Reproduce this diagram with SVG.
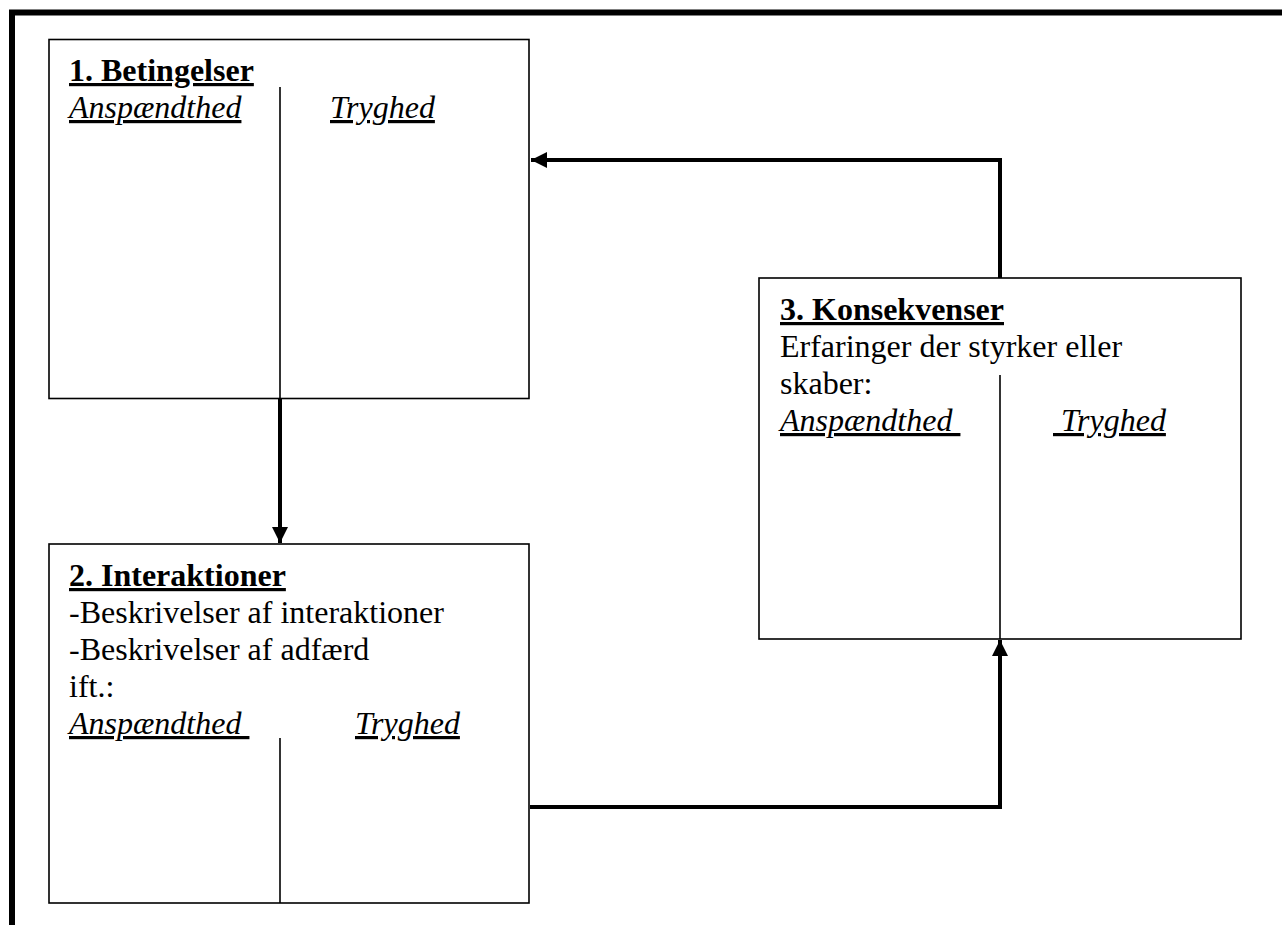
<svg xmlns="http://www.w3.org/2000/svg" width="1282" height="925" viewBox="0 0 1282 925">
<defs>
<style>
.box{fill:#fff;stroke:#000;stroke-width:1.6}
.div{stroke:#000;stroke-width:1.6}
.t{font-family:"Liberation Serif","Times New Roman",serif;font-size:32px;fill:#000}
.b{font-weight:bold;text-decoration:underline}
.i{font-style:italic;text-decoration:underline}
.con{fill:none;stroke:#000;stroke-width:4}
</style>
<marker id="ah" viewBox="0 0 10 10" refX="10" refY="5" markerWidth="4" markerHeight="4" orient="auto" markerUnits="strokeWidth">
<path d="M0,0 L10,5 L0,10 Z" fill="#000"/>
</marker>
</defs>
<rect width="1282" height="925" fill="#fff"/>
<rect x="12" y="12.5" width="1400" height="1000" fill="none" stroke="#000" stroke-width="6"/>
<g id="node1">
<rect class="box" x="49" y="39.5" width="480" height="359"/>
<line class="div" x1="280" y1="87" x2="280" y2="398.5"/>
<text class="t b" x="69" y="81">1. Betingelser</text>
<text class="t i" x="69" y="118">Anspændthed</text>
<text class="t i" x="330" y="118">Tryghed</text>
</g>
<g id="node2">
<rect class="box" x="49" y="544" width="480" height="359"/>
<line class="div" x1="280" y1="738" x2="280" y2="903"/>
<text class="t b" x="69" y="586">2. Interaktioner</text>
<text class="t" x="69" y="623">-Beskrivelser af interaktioner</text>
<text class="t" x="69" y="660">-Beskrivelser af adfærd</text>
<text class="t" x="69" y="697">ift.:</text>
<text class="t i" x="69" y="734" xml:space="preserve">Anspændthed </text>
<text class="t i" x="355" y="734">Tryghed</text>
</g>
<g id="node3">
<rect class="box" x="759" y="278" width="482" height="361"/>
<line class="div" x1="1000" y1="375" x2="1000" y2="639"/>
<text class="t b" x="780" y="320">3. Konsekvenser</text>
<text class="t" x="780" y="357">Erfaringer der styrker eller</text>
<text class="t" x="780" y="394">skaber:</text>
<text class="t i" x="780" y="431" xml:space="preserve">Anspændthed </text>
<text class="t i" x="1053" y="431" xml:space="preserve"> Tryghed</text>
</g>
<g id="connectors">
<path class="con" d="M1000,278 L1000,160 L531,160" marker-end="url(#ah)"/>
<path class="con" d="M280,399 L280,543" marker-end="url(#ah)"/>
<path class="con" d="M530,807 L1000,807 L1000,640" marker-end="url(#ah)"/>
</g>
</svg>
